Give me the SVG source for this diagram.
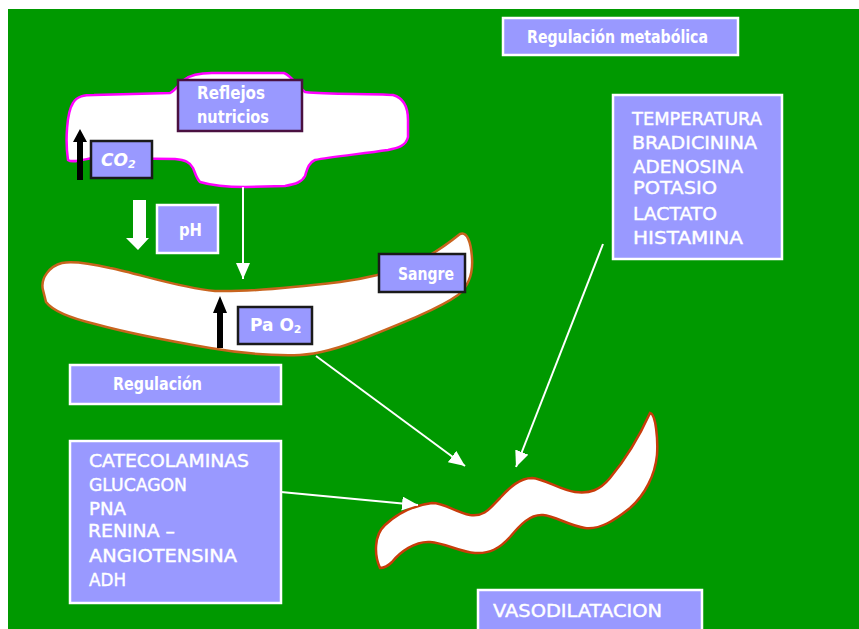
<svg xmlns="http://www.w3.org/2000/svg" width="859" height="629" viewBox="0 0 859 629">
  <style>
    .box { fill: #9999ff; stroke: #ffffff; stroke-width: 2.5; }
    .dark { fill: #9999ff; stroke: #1a1a1a; stroke-width: 2.5; }
    .lbl { font-family: "DejaVu Sans", "Liberation Sans", sans-serif; font-size: 17px; font-weight: bold; fill: #ffffff; }
    .lst { font-family: "DejaVu Sans", "Liberation Sans", sans-serif; font-size: 17px; fill: #ffffff; stroke: #ffffff; stroke-width: 0.4; }
    .wire { stroke: #ffffff; stroke-width: 2; fill: none; marker-end: url(#head); }
  </style>
  <defs>
    <marker id="head" markerUnits="userSpaceOnUse" markerWidth="17" markerHeight="15" refX="16" refY="7" orient="auto">
      <path d="M0,0 L16,7 L0,14 Z" fill="#ffffff"/>
    </marker>
  </defs>

  <rect x="0" y="0" width="859" height="629" fill="#ffffff"/>
  <rect x="8" y="9" width="851" height="620" fill="#009900"/>

  <!-- cloud: nutritional reflexes -->
  <g id="cloud">
    <path d="M68,160 C65,140 67,112 73,103 C77,96 84,95 94,95 L170,93 C176,90 179,84 184,80 C190,75 200,73 212,73 L284,73 C292,76 296,85 305,92 C330,95 370,93 393,95 C404,98 408,108 408,120 L408,137 C406,146 398,148 388,150 C360,154 330,157 315,160 C308,163 307,170 305,176 C302,182 296,184 285,186 L245,187 C225,187 210,185 200,182 C196,178 195,172 193,168 C190,162 185,160 175,159 L92,158 C82,160 72,163 68,160 Z" fill="#ffffff" stroke="#ff00ff" stroke-width="2.5"/>
  </g>

  <!-- blood vessel -->
  <g id="sangre-vessel">
    <path d="M43,290 C40,278 50,266 62,263 C72,261 88,263 110,268 C140,274 180,288 215,291 C250,292 290,288 340,282 C370,278 392,272 412,264 C432,256 450,242 460,234 C467,231 471,242 472,258 C473,272 470,285 458,295 C440,308 405,322 365,338 C340,348 320,354 300,355 C270,356 245,354 210,348 C175,342 135,335 95,324 C70,318 52,310 46,302 Z" fill="#ffffff" stroke="#c8641e" stroke-width="2.5"/>
  </g>

  <!-- dilated vessel -->
  <g id="vasodilatacion-vessel">
    <path d="M380,568 C374,555 374,535 385,525 C398,513 415,505 432,503 C445,503 455,512 470,515 C485,517 490,508 500,498 C510,487 520,478 532,478 C545,479 560,490 575,492 C590,494 600,490 610,478 C625,460 640,435 650,413 C656,414 658,440 657,455 C655,475 645,495 630,508 C615,520 600,530 585,528 C570,526 555,516 543,515 C530,514 520,525 510,537 C500,548 490,554 475,553 C460,552 445,543 430,542 C415,541 400,552 392,562 C388,566 384,568 380,568 Z" fill="#ffffff" stroke="#c83c0a" stroke-width="2.5"/>
  </g>

  <!-- connectors -->
  <g id="connectors">
    <line class="wire" x1="243" y1="187" x2="243" y2="279"/>
    <line class="wire" x1="316" y1="356" x2="465" y2="466"/>
    <line class="wire" x1="603" y1="244" x2="516" y2="467"/>
    <line class="wire" x1="281" y1="492" x2="418" y2="505"/>
    <!-- level indicators -->
    <polygon points="77,180 77,142 73,142 80,129 87,142 83,142 83,180" fill="#000000"/>
    <polygon points="217,348 217,313 213,313 220,296 227,313 223,313 223,348" fill="#000000"/>
    <polygon points="133,200 146,200 146,238 149,238 138,250 126,238 133,238" fill="#ffffff"/>
  </g>

  <g id="reflejos">
    <rect x="178" y="80" width="124" height="51" fill="#9999ff" stroke="#4a1040" stroke-width="2.5"/>
    <text class="lbl" x="197" y="99" textLength="68" lengthAdjust="spacingAndGlyphs">Reflejos</text>
    <text class="lbl" x="197" y="123" textLength="72" lengthAdjust="spacingAndGlyphs">nutricios</text>
  </g>

  <g id="co2">
    <rect class="dark" x="91" y="141" width="61" height="37"/>
    <text class="lbl" x="101" y="166" font-style="italic" font-weight="normal" font-size="18">CO<tspan font-size="11" dy="2">2</tspan></text>
  </g>

  <g id="ph">
    <rect class="box" x="157" y="205" width="61" height="48"/>
    <text class="lbl" x="179" y="236" textLength="23" lengthAdjust="spacingAndGlyphs">pH</text>
  </g>

  <g id="sangre">
    <rect class="dark" x="379" y="254" width="86" height="38"/>
    <text class="lbl" x="398" y="280" textLength="56" lengthAdjust="spacingAndGlyphs">Sangre</text>
  </g>

  <g id="pao2">
    <rect class="dark" x="238" y="307" width="74" height="37"/>
    <text class="lbl" x="250" y="331" font-weight="normal" font-size="18">Pa O<tspan font-size="11" dy="2">2</tspan></text>
  </g>

  <g id="regulacion">
    <rect class="box" x="70" y="365" width="211" height="39"/>
    <text class="lbl" x="113" y="390" textLength="89" lengthAdjust="spacingAndGlyphs">Regulación</text>
  </g>

  <g id="regulacion-metabolica">
    <rect class="box" x="503" y="18" width="235" height="37"/>
    <text class="lbl" x="527" y="43" textLength="181" lengthAdjust="spacingAndGlyphs">Regulación metabólica</text>
  </g>

  <g id="metabolitos">
    <rect class="box" x="613" y="95" width="169" height="164"/>
    <text class="lst" x="632" y="125" textLength="130" lengthAdjust="spacingAndGlyphs">TEMPERATURA</text>
    <text class="lst" x="632" y="149" textLength="125" lengthAdjust="spacingAndGlyphs">BRADICININA</text>
    <text class="lst" x="633" y="173" textLength="110" lengthAdjust="spacingAndGlyphs">ADENOSINA</text>
    <text class="lst" x="633" y="194" textLength="84" lengthAdjust="spacingAndGlyphs">POTASIO</text>
    <text class="lst" x="633" y="220" textLength="84" lengthAdjust="spacingAndGlyphs">LACTATO</text>
    <text class="lst" x="633" y="244" textLength="110" lengthAdjust="spacingAndGlyphs">HISTAMINA</text>
  </g>

  <g id="hormonas">
    <rect class="box" x="70" y="441" width="211" height="162"/>
    <text class="lst" x="89" y="467" textLength="160" lengthAdjust="spacingAndGlyphs">CATECOLAMINAS</text>
    <text class="lst" x="89" y="491" textLength="98" lengthAdjust="spacingAndGlyphs">GLUCAGON</text>
    <text class="lst" x="89" y="515" textLength="37" lengthAdjust="spacingAndGlyphs">PNA</text>
    <text class="lst" x="88" y="537" textLength="87" lengthAdjust="spacingAndGlyphs">RENINA –</text>
    <text class="lst" x="89" y="562" textLength="148" lengthAdjust="spacingAndGlyphs">ANGIOTENSINA</text>
    <text class="lst" x="89" y="586" textLength="37" lengthAdjust="spacingAndGlyphs">ADH</text>
  </g>

  <g id="vasodilatacion">
    <rect class="box" x="478" y="590" width="224" height="50"/>
    <text class="lst" x="493" y="617" textLength="169" lengthAdjust="spacingAndGlyphs">VASODILATACION</text>
  </g>
</svg>
